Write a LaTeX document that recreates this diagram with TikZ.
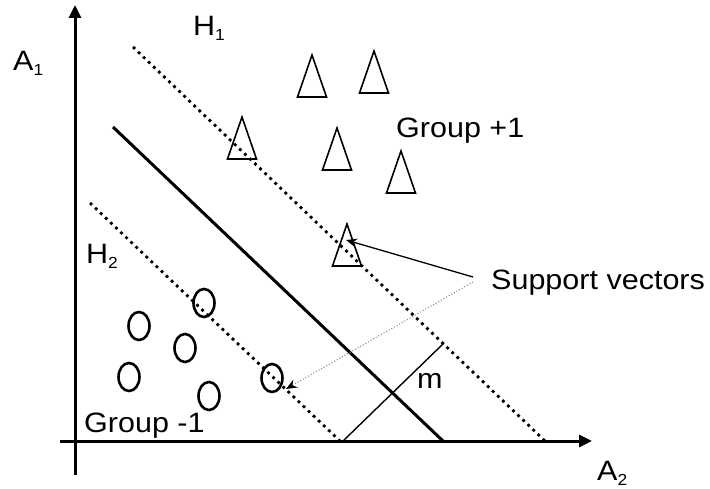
\documentclass[tikz,border=0pt]{standalone}
\usepackage{fontspec}
\setmainfont{Liberation Sans}[FakeStretch=1.09]
\usetikzlibrary{arrows.meta,shapes.geometric}
\newcommand{\mysub}[1]{\raisebox{-5pt}{\fontsize{16}{16}\selectfont #1}}
\begin{document}
\begin{tikzpicture}[x=1pt,y=-1pt,
  axis/.style={line width=3pt,-{Triangle[length=13pt,width=12pt]}},
  hyper/.style={line width=3pt},
  marginline/.style={line width=2.8pt,dash pattern=on 2.8pt off 4.2pt},
  tri/.style={draw,line width=1.6pt},
  circ/.style={draw,ellipse,line width=2.6pt,minimum width=21pt,minimum height=28pt,inner sep=0pt},
  lbl/.style={font=\fontsize{28}{30}\selectfont,inner sep=0pt,anchor=base west},
  svarrow/.style={line width=1.3pt,-{Stealth[length=11pt,width=9pt]}},
  svdotted/.style={line width=1pt,gray,dotted,-{Stealth[length=11pt,width=9pt,black]}}
]
\useasboundingbox[fill=white] (0,0) rectangle (710,489);

% axes
\coordinate (yb) at (75,475);
\coordinate (yt) at (75,5);
\coordinate (xl) at (60,441);
\coordinate (xr) at (592,441);
\draw[axis] (yb) -- (yt);
\draw[axis] (xl) -- (xr);

% hyperplanes
\coordinate (s0) at (113,127);
\coordinate (s1) at (443,441);
\coordinate (h1a) at (133,47);
\coordinate (h1b) at (545,441);
\coordinate (h2a) at (90,203);
\coordinate (h2b) at (340,441);
\coordinate (ma) at (343,441);
\coordinate (mb) at (444,343);
\draw[hyper] (s0) -- (s1);
\draw[marginline] (h1a) -- (h1b);
\draw[marginline] (h2a) -- (h2b);
\draw[line width=1.4pt] (ma) -- (mb);

% triangles (group +1)
\foreach \n/\px/\py in {t1/312/76, t2/374/72, t3/337/149, t4/401/172, t5/242/138, t6/347/245}{
  \coordinate (\n) at (\px,\py);
  \draw[tri,line join=miter] (\n) ++(0,-21) -- ++(14.5,42) -- ++(-29,0) -- cycle;
}

% circles (group -1)
\node[circ] (c1) at (204,303) {};
\node[circ] (c2) at (139,326) {};
\node[circ] (c3) at (185,348) {};
\node[circ] (c4) at (129,377) {};
\node[circ] (c5) at (209,396) {};
\node[circ] (c6) at (272,378) {};

% labels
\node[lbl] (la1) at (13,71) {A\mysub{1}};
\node[lbl] (lh1) at (193,36) {H\mysub{1}};
\node[lbl] (lh2) at (86,264) {H\mysub{2}};
\node[lbl] (la2) at (597,480) {A\mysub{2}};
\node[lbl] (gp) at (396,138) {Group +1};
\node[lbl] (gm) at (84,432) {Group -1};
\node[lbl] (sv) at (491,290) {Support vectors};
\node[lbl] (lm) at (417,388) {m};

% support vector arrows
\coordinate (sv1) at (473,277);
\coordinate (sv2) at (473,282);
\coordinate (tipa) at (346,240);
\coordinate (tipb) at (286,389);
\draw[svarrow] (sv1) -- (tipa);
\draw[svdotted] (sv2) -- (tipb);
\end{tikzpicture}
\end{document}
